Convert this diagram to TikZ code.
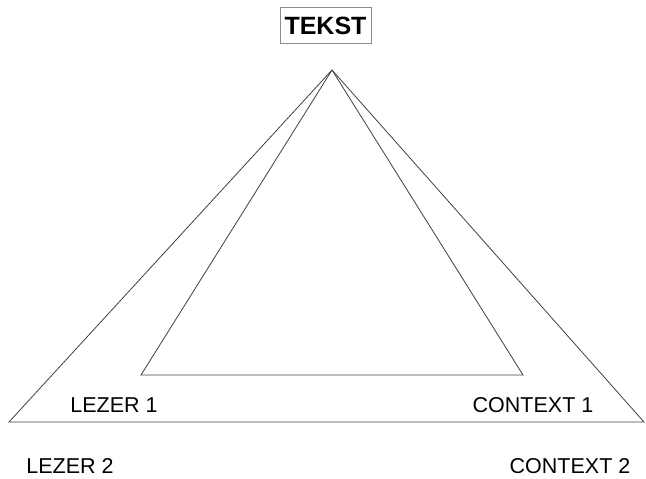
\documentclass[tikz,border=0pt]{standalone}
\usepackage{fontspec}
\setmainfont{Liberation Sans}
\usetikzlibrary{shapes}
\tikzstyle{lbl}=[inner sep=0pt,font=\fontsize{21.5}{24}\selectfont]
\tikzstyle{titel}=[draw=black!45,line width=0.8pt,inner xsep=4.5pt,inner ysep=9.5pt,
  font=\fontsize{25}{28}\bfseries\selectfont]
\tikzstyle{zijde}=[draw=black!75,line width=0.8pt,line join=miter]

\begin{document}
\begin{tikzpicture}[x=1pt,y=-1pt]
    \useasboundingbox (0,0) rectangle (646,479);
    \node [style=titel] (tekst) at (325.5,25.5) {TEKST};
    \coordinate (top) at (332,70);
    \coordinate (buitenl) at (9,422);
    \coordinate (buitenr) at (644,422);
    \coordinate (binnenl) at (141,375);
    \coordinate (binnenr) at (523,375);
    \node [style=lbl] (lezer1) at (114,405) {LEZER 1};
    \node [style=lbl] (context1) at (533,405) {CONTEXT 1};
    \node [style=lbl] (lezer2) at (70,466) {LEZER 2};
    \node [style=lbl] (context2) at (570,466) {CONTEXT 2};
    \draw [style=zijde] (top) to (buitenl) to (buitenr) to (top);
    \draw [style=zijde] (top) to (binnenl) to (binnenr) to (top);
  \end{tikzpicture}
\end{document}
